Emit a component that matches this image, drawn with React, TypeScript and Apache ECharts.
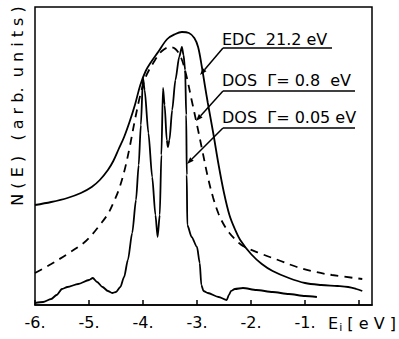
import React, { useEffect, useRef } from "react";
import * as echarts from "echarts";

// Energy axis ticks (eV)
const xTicks = [-6, -5, -4, -3, -2, -1, 0];

// EDC 21.2 eV (solid, broad)
const edcX = [-6.0, -5.7, -5.4, -5.15, -4.95, -4.8, -4.65, -4.55, -4.45, -4.35, -4.25, -4.15, -4.05, -3.95, -3.85, -3.72, -3.55, -3.4, -3.28, -3.15, -3.05, -2.98, -2.91, -2.85, -2.8, -2.7, -2.6, -2.5, -2.4, -2.3, -2.2, -2.0, -1.8, -1.6, -1.3, -1.0, -0.7, -0.4, -0.2, -0.05, 0.06];
const edcY = [100, 103, 107, 112, 118, 125, 135, 144, 156, 168, 183, 200, 220, 234, 243, 253, 266, 271, 273, 272, 267, 258, 238, 218, 202, 172, 140, 112, 90, 76, 65, 51, 41, 34, 27, 22, 20, 19, 18, 16, 14];

// DOS Gamma = 0.8 eV (dashed)
const dos08X = [-6.0, -5.7, -5.4, -5.1, -4.95, -4.8, -4.65, -4.55, -4.45, -4.35, -4.25, -4.15, -4.05, -3.95, -3.8, -3.65, -3.5, -3.4, -3.3, -3.2, -3.1, -3.0, -2.9, -2.8, -2.7, -2.6, -2.5, -2.4, -2.3, -2.15, -1.8, -1.5, -1.15, -0.8, -0.5, 0.06];
const dos08Y = [32, 41, 51, 62, 70, 80, 91, 102, 115, 133, 157, 185, 210, 228, 243, 254, 258, 256, 248, 230, 205, 180, 154, 128, 107, 91, 80, 72, 66, 59, 51, 45, 38, 33, 30, 26];

// DOS Gamma = 0.05 eV (solid, sharp)
const dos005X = [-6.0, -5.85, -5.7, -5.6, -5.5, -5.4, -5.2, -5.0, -4.93, -4.85, -4.75, -4.65, -4.57, -4.5, -4.42, -4.35, -4.28, -4.2, -4.13, -4.08, -4.04, -4.0, -3.97, -3.9, -3.83, -3.77, -3.73, -3.69, -3.66, -3.63, -3.6, -3.56, -3.54, -3.51, -3.46, -3.4, -3.33, -3.28, -3.25, -3.22, -3.2, -3.19, -3.18, -3.1, -3.0, -2.95, -2.92, -2.88, -2.8, -2.6, -2.45, -2.41, -2.37, -2.3, -2.15, -1.9, -1.6, -1.3, -1.0, -0.78];
const dos005Y = [2, 3, 6, 10, 16, 18, 21, 25, 27, 23, 18, 14, 12, 13, 18, 28, 45, 72, 105, 140, 180, 227, 215, 172, 128, 90, 68, 90, 150, 217, 200, 165, 158, 165, 195, 225, 248, 258, 250, 235, 190, 130, 80, 68, 58, 42, 20, 14, 12, 8, 5, 10, 14, 16, 17, 15, 13, 11, 9, 8];

const zip = (xs: number[], ys: number[]) => xs.map((x, i) => [x, ys[i]]);

const FONT = "DejaVu Sans";

function arrow(x1: number, y1: number, x2: number, y2: number) {
  const dx = x2 - x1;
  const dy = y2 - y1;
  const len = Math.sqrt(dx * dx + dy * dy);
  const ux = dx / len;
  const uy = dy / len;
  const hl = 7;
  const hw = 2.5;
  const bx = x2 - ux * hl;
  const by = y2 - uy * hl;
  return [
    { type: "line", shape: { x1, y1, x2: bx, y2: by }, style: { stroke: "#000", lineWidth: 1.5 } },
    {
      type: "polygon",
      shape: { points: [[x2, y2], [bx - uy * hw, by + ux * hw], [bx + uy * hw, by - ux * hw]] },
      style: { fill: "#000" },
    },
  ];
}

export default function App() {
  const ref = useRef<HTMLDivElement>(null);
  useEffect(() => {
    if (!ref.current) return;
    const chart = echarts.init(ref.current, undefined, { renderer: "svg" });
    const labelStyle = { fill: "#000", fontFamily: FONT, fontSize: 16 };
    chart.setOption({
      animation: false,
      backgroundColor: "#fff",
      grid: { left: 35, right: 27, top: 7, bottom: 34, show: true, borderColor: "#000", borderWidth: 1.5, backgroundColor: "transparent" },
      xAxis: {
        type: "value",
        min: -6,
        max: 0.24,
        interval: 1,
        axisLine: { show: true, lineStyle: { color: "#000", width: 1.5 } },
        axisTick: { show: true, inside: true, length: 5, lineStyle: { color: "#000", width: 1.5 } },
        splitLine: { show: false },
        axisLabel: {
          color: "#000",
          fontFamily: FONT,
          fontSize: 16,
          margin: 9,
          showMaxLabel: false,
          formatter: (v: number) => (xTicks.includes(v) && v !== 0 ? `-${Math.abs(v)}.` : ""),
        },
      },
      yAxis: {
        type: "value",
        min: 0,
        max: 298,
        axisLine: { show: false },
        axisTick: { show: false },
        axisLabel: { show: false },
        splitLine: { show: false },
      },
      series: [
        {
          name: "EDC 21.2 eV",
          type: "line",
          data: zip(edcX, edcY),
          showSymbol: false,
          smooth: 0.35,
          lineStyle: { color: "#000", width: 1.8 },
        },
        {
          name: "DOS 0.8",
          type: "line",
          data: zip(dos08X, dos08Y),
          showSymbol: false,
          smooth: 0.35,
          lineStyle: { color: "#000", width: 1.8, type: [8, 6] },
        },
        {
          name: "DOS 0.05",
          type: "line",
          data: zip(dos005X, dos005Y),
          showSymbol: false,
          smooth: 0.25,
          smoothMonotone: "x",
          lineStyle: { color: "#000", width: 1.8 },
        },
      ],
      graphic: [
        {
          type: "text",
          x: 17,
          y: 106,
          rotation: Math.PI / 2,
          style: { ...labelStyle, text: "N ( E )   ( a r b.  u n i t s )", align: "center", verticalAlign: "middle" },
        },
        {
          type: "text",
          x: 362,
          y: 323,
          style: {
            text: "{a|E}{s|i}{a| [ e V ]}",
            align: "center",
            verticalAlign: "middle",
            rich: {
              a: { fill: "#000", fontFamily: FONT, fontSize: 16 },
              s: { fill: "#000", fontFamily: FONT, fontSize: 11, padding: [8, 0, 0, 1] },
            },
          },
        },
        { type: "text", x: 222, y: 39, style: { ...labelStyle, text: "EDC  21.2 eV", verticalAlign: "middle" } },
        { type: "line", shape: { x1: 223, y1: 48, x2: 332, y2: 48 }, style: { stroke: "#000", lineWidth: 1.5 } },
        ...arrow(223, 48, 200, 75),
        { type: "text", x: 222, y: 80, style: { ...labelStyle, text: "DOS  Γ= 0.8  eV", verticalAlign: "middle" } },
        { type: "line", shape: { x1: 223, y1: 91, x2: 355, y2: 91 }, style: { stroke: "#000", lineWidth: 1.5 } },
        ...arrow(223, 91, 196, 121),
        { type: "text", x: 222, y: 117, style: { ...labelStyle, text: "DOS  Γ= 0.05 eV", verticalAlign: "middle" } },
        { type: "line", shape: { x1: 223, y1: 128, x2: 355, y2: 128 }, style: { stroke: "#000", lineWidth: 1.5 } },
        ...arrow(223, 128, 187, 164),
      ],
    });
    return () => chart.dispose();
  }, []);
  return <div ref={ref} style={{ position: "fixed", left: 0, top: 0, width: 399, height: 339, background: "#fff" }} />;
}
